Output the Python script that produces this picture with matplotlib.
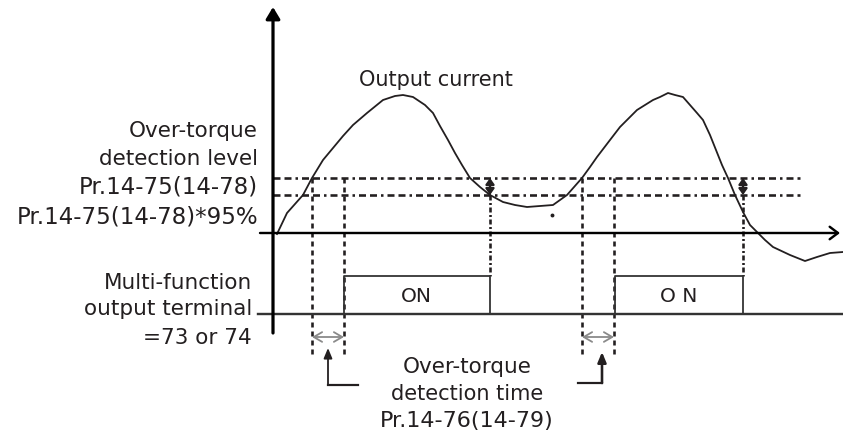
import matplotlib
matplotlib.use("Agg")
import matplotlib.pyplot as plt

plt.rcParams['lines.scale_dashes'] = False
plt.rcParams['font.family'] = ['DejaVu Sans']

# ---- data (diagram coordinates in pixels, y downward) ----
curve_x = [277, 287, 295, 303, 312, 323, 333, 343, 353, 367, 383, 395, 403, 413, 425, 433, 440,
           448, 455, 462, 470, 480, 490, 503, 515, 527, 540, 553, 567, 582, 590, 597, 610,
           620, 637, 653, 660, 668, 675, 683, 690, 697, 703, 710, 716, 722, 728, 735, 743,
           750, 758, 765, 773, 790, 805, 817, 830, 843]
curve_y = [234, 213, 204, 195, 178, 160, 148, 136, 125, 113, 100, 96, 95, 97, 105, 113, 126,
           140, 153, 165, 178, 187, 195, 202, 205, 207, 206, 205, 195, 178, 167, 157, 140,
           127, 110, 100, 97, 93, 95, 97, 105, 113, 120, 135, 150, 165, 178, 195, 212,
           225, 233, 240, 247, 255, 261, 257, 253, 252]

level_y = 178        # Pr.14-75(14-78)
level95_y = 195      # Pr.14-75(14-78)*95%
level_x = [273, 800]

on_starts = [344, 615]
on_ends = [490, 743]
on_labels = ["ON", "O N"]
sig_low = 314
sig_high = 276

dashed_x = [312, 344, 582, 614]
dashdot_x = [490, 743]
time_pairs = [(312, 344), (582, 614)]

left_labels = ["Over-torque", "detection level", "Pr.14-75(14-78)", "Pr.14-75(14-78)*95%",
               "Multi-function", "output terminal", "=73 or 74"]
bottom_labels = ["Over-torque", "detection time", "Pr.14-76(14-79)"]
title_label = "Output current"

# ---- figure ----
fig = plt.figure(figsize=(8.43, 4.32), dpi=100)
ax = fig.add_axes([0, 0, 1, 1])
ax.set_xlim(0, 843)
ax.set_ylim(432, 0)
ax.axis('off')

K = '#231f20'
G = '#333333'
px = 0.72  # points per pixel

# axes
ax.annotate('', xy=(273, 7), xytext=(273, 333),
            arrowprops=dict(arrowstyle='-|>,head_length=0.7,head_width=0.42', lw=3.2 * px,
                            color='black', shrinkA=0, shrinkB=0))
ax.annotate('', xy=(840, 233), xytext=(260, 233),
            arrowprops=dict(arrowstyle='->,head_length=0.6,head_width=0.45', lw=2.4 * px,
                            color='black', shrinkA=0, shrinkB=0))

# threshold lines
dd = (0, (7 * px, 4 * px, 7 * px, 4 * px, 2.5 * px, 4 * px))
for yv in (level_y, level95_y):
    ax.plot(level_x, [yv, yv], color=K, lw=2.6 * px, linestyle=dd)

# current curve
ax.plot(curve_x, curve_y, color=K, lw=1.8 * px, solid_joinstyle='round')
ax.plot([552], [215], marker='o', ms=1.8, color=K)

# dashed verticals
for xv in dashed_x:
    ax.plot([xv, xv], [level_y, 355], color=K, lw=2.6 * px, linestyle=(0, (5 * px, 4 * px)))

# dash-dot verticals
for xv in dashdot_x:
    ax.plot([xv, xv], [level95_y, sig_high], color=K, lw=2.6 * px,
            linestyle=(0, (5 * px, 2.5 * px, 2 * px, 2.5 * px)))
    ax.annotate('', xy=(xv, level95_y), xytext=(xv, level_y),
                arrowprops=dict(arrowstyle='<|-|>,head_length=0.35,head_width=0.25', lw=2.4 * px,
                                color=K, shrinkA=0, shrinkB=0))

# digital signal
ax.plot([258, 843], [sig_low, sig_low], color=G, lw=2.4 * px)
for s, e, lab in zip(on_starts, on_ends, on_labels):
    ax.plot([s, s, e, e], [sig_low, sig_high, sig_high, sig_low], color=G, lw=1.8 * px)
    ax.text((s + e) / 2 - 0.5, 302, lab, ha='center', va='baseline', fontsize=14.5, color=K)

# detection-time arrows
for a, b in time_pairs:
    ax.annotate('', xy=(a, 337), xytext=(b, 337),
                arrowprops=dict(arrowstyle='<->,head_length=0.6,head_width=0.35', lw=1.8 * px,
                                color='#8a8a8a', shrinkA=0, shrinkB=0))

# L-shaped pointers
ax.plot([328, 358], [385, 385], color=K, lw=2.2 * px)
ax.annotate('', xy=(328, 348), xytext=(328, 385),
            arrowprops=dict(arrowstyle='-|>,head_length=0.6,head_width=0.25', lw=1.8 * px,
                            color=K, shrinkA=0, shrinkB=0))
ax.plot([578, 602], [383, 383], color=K, lw=2.2 * px)
ax.annotate('', xy=(602, 352), xytext=(602, 383),
            arrowprops=dict(arrowstyle='-|>,head_length=0.6,head_width=0.25', lw=2.6 * px,
                            color=K, shrinkA=0, shrinkB=0))

# texts
left_pos = [(258, 137), (258, 165), (258, 193), (258, 223), (252, 289), (252, 315), (252, 344)]
left_sizes = [15.5, 15.5, 16.5, 16.5, 15.5, 15.5, 15.5]
for lab, (x, y), fs in zip(left_labels, left_pos, left_sizes):
    ax.text(x, y, lab, ha='right', va='baseline', fontsize=fs, color=K)

ax.text(436, 86, title_label, ha='center', va='baseline', fontsize=15, color=K)

bot_pos = [(467, 373), (467, 400), (467, 427)]
bot_sizes = [15.5, 15, 16]
for lab, (x, y), fs in zip(bottom_labels, bot_pos, bot_sizes):
    ax.text(x, y, lab, ha='center', va='baseline', fontsize=fs, color=K)

fig.savefig('out.png', dpi=100)
